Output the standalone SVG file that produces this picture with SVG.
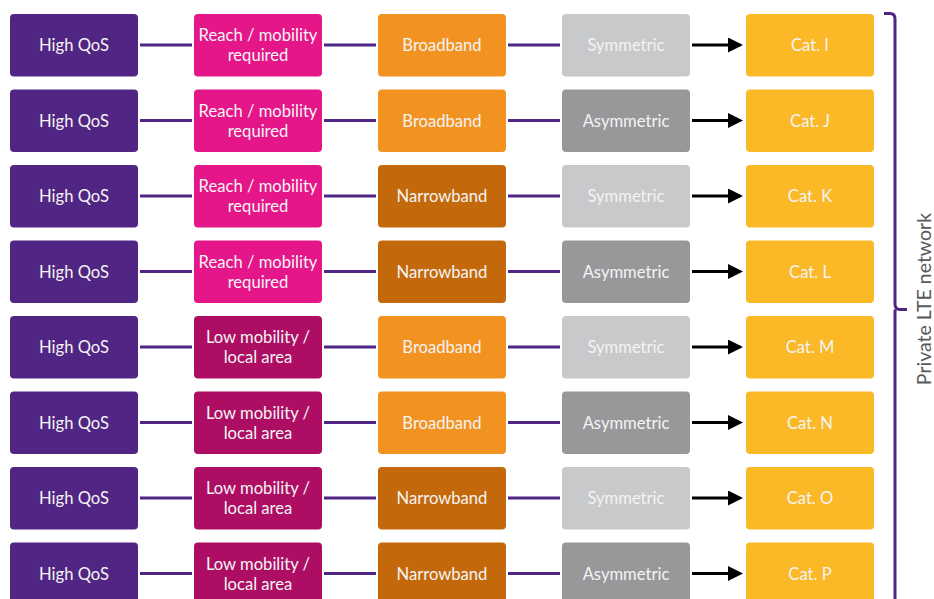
<svg xmlns="http://www.w3.org/2000/svg" width="934" height="599" viewBox="0 0 934 599">
<defs>
<style>
.b{rx:4;ry:4}
.t{font-family:Lato,"Open Sans","Liberation Sans",sans-serif;font-size:16.6px;fill:#F4F4F4;text-anchor:middle}
.q{fill:#512583}
.r{fill:#E5158A}
.l{fill:#AD0E64}
.bb{fill:#F29220}
.nb{fill:#C4690B}
.s{fill:#C8C9CA}
.a{fill:#98989B}
.c{fill:#FBB827}
.pl{stroke:#512583;stroke-width:3;fill:none}
.ar{stroke:#000;stroke-width:3;fill:none}
</style>
<marker id="ah" markerWidth="5" markerHeight="5" refX="4" refY="2.5" orient="auto" markerUnits="strokeWidth">
<path d="M0,0 L5,2.5 L0,5 Z" fill="#000"/>
</marker>
</defs>
<g id="connectors">
<g class="pl">
<path d="M140,45H192M324,45H376M508,45H560"/>
<path d="M140,120.5H192M324,120.5H376M508,120.5H560"/>
<path d="M140,196H192M324,196H376M508,196H560"/>
<path d="M140,271.5H192M324,271.5H376M508,271.5H560"/>
<path d="M140,347H192M324,347H376M508,347H560"/>
<path d="M140,422.5H192M324,422.5H376M508,422.5H560"/>
<path d="M140,498H192M324,498H376M508,498H560"/>
<path d="M140,573.5H192M324,573.5H376M508,573.5H560"/>
</g>
<g class="ar" marker-end="url(#ah)">
<path d="M692,45H740"/>
<path d="M692,120.5H740"/>
<path d="M692,196H740"/>
<path d="M692,271.5H740"/>
<path d="M692,347H740"/>
<path d="M692,422.5H740"/>
<path d="M692,498H740"/>
<path d="M692,573.5H740"/>
</g>
</g>
<g id="r1">
<g id="n1a"><rect class="b q" x="10" y="14" width="128" height="62.5"/><text class="t" x="74" y="51">High QoS</text></g>
<g id="n1b"><rect class="b r" x="194" y="14" width="128" height="62.5"/><text class="t" x="258" y="41">Reach / mobility</text><text class="t" x="258" y="61">required</text></g>
<g id="n1c"><rect class="b bb" x="378" y="14" width="128" height="62.5"/><text class="t" x="442" y="51">Broadband</text></g>
<g id="n1d"><rect class="b s" x="562" y="14" width="128" height="62.5"/><text class="t" x="626" y="51">Symmetric</text></g>
<g id="n1e"><rect class="b c" x="746" y="14" width="128" height="62.5"/><text class="t" x="810" y="51">Cat. I</text></g>
</g>
<g id="r2">
<g id="n2a"><rect class="b q" x="10" y="89.5" width="128" height="62.5"/><text class="t" x="74" y="126.5">High QoS</text></g>
<g id="n2b"><rect class="b r" x="194" y="89.5" width="128" height="62.5"/><text class="t" x="258" y="116.5">Reach / mobility</text><text class="t" x="258" y="136.5">required</text></g>
<g id="n2c"><rect class="b bb" x="378" y="89.5" width="128" height="62.5"/><text class="t" x="442" y="126.5">Broadband</text></g>
<g id="n2d"><rect class="b a" x="562" y="89.5" width="128" height="62.5"/><text class="t" x="626" y="126.5">Asymmetric</text></g>
<g id="n2e"><rect class="b c" x="746" y="89.5" width="128" height="62.5"/><text class="t" x="810" y="126.5">Cat. J</text></g>
</g>
<g id="r3">
<g id="n3a"><rect class="b q" x="10" y="165" width="128" height="62.5"/><text class="t" x="74" y="202">High QoS</text></g>
<g id="n3b"><rect class="b r" x="194" y="165" width="128" height="62.5"/><text class="t" x="258" y="192">Reach / mobility</text><text class="t" x="258" y="212">required</text></g>
<g id="n3c"><rect class="b nb" x="378" y="165" width="128" height="62.5"/><text class="t" x="442" y="202">Narrowband</text></g>
<g id="n3d"><rect class="b s" x="562" y="165" width="128" height="62.5"/><text class="t" x="626" y="202">Symmetric</text></g>
<g id="n3e"><rect class="b c" x="746" y="165" width="128" height="62.5"/><text class="t" x="810" y="202">Cat. K</text></g>
</g>
<g id="r4">
<g id="n4a"><rect class="b q" x="10" y="240.5" width="128" height="62.5"/><text class="t" x="74" y="277.5">High QoS</text></g>
<g id="n4b"><rect class="b r" x="194" y="240.5" width="128" height="62.5"/><text class="t" x="258" y="267.5">Reach / mobility</text><text class="t" x="258" y="287.5">required</text></g>
<g id="n4c"><rect class="b nb" x="378" y="240.5" width="128" height="62.5"/><text class="t" x="442" y="277.5">Narrowband</text></g>
<g id="n4d"><rect class="b a" x="562" y="240.5" width="128" height="62.5"/><text class="t" x="626" y="277.5">Asymmetric</text></g>
<g id="n4e"><rect class="b c" x="746" y="240.5" width="128" height="62.5"/><text class="t" x="810" y="277.5">Cat. L</text></g>
</g>
<g id="r5">
<g id="n5a"><rect class="b q" x="10" y="316" width="128" height="62.5"/><text class="t" x="74" y="353">High QoS</text></g>
<g id="n5b"><rect class="b l" x="194" y="316" width="128" height="62.5"/><text class="t" x="258" y="343">Low mobility /</text><text class="t" x="258" y="363">local area</text></g>
<g id="n5c"><rect class="b bb" x="378" y="316" width="128" height="62.5"/><text class="t" x="442" y="353">Broadband</text></g>
<g id="n5d"><rect class="b s" x="562" y="316" width="128" height="62.5"/><text class="t" x="626" y="353">Symmetric</text></g>
<g id="n5e"><rect class="b c" x="746" y="316" width="128" height="62.5"/><text class="t" x="810" y="353">Cat. M</text></g>
</g>
<g id="r6">
<g id="n6a"><rect class="b q" x="10" y="391.5" width="128" height="62.5"/><text class="t" x="74" y="428.5">High QoS</text></g>
<g id="n6b"><rect class="b l" x="194" y="391.5" width="128" height="62.5"/><text class="t" x="258" y="418.5">Low mobility /</text><text class="t" x="258" y="438.5">local area</text></g>
<g id="n6c"><rect class="b bb" x="378" y="391.5" width="128" height="62.5"/><text class="t" x="442" y="428.5">Broadband</text></g>
<g id="n6d"><rect class="b a" x="562" y="391.5" width="128" height="62.5"/><text class="t" x="626" y="428.5">Asymmetric</text></g>
<g id="n6e"><rect class="b c" x="746" y="391.5" width="128" height="62.5"/><text class="t" x="810" y="428.5">Cat. N</text></g>
</g>
<g id="r7">
<g id="n7a"><rect class="b q" x="10" y="467" width="128" height="62.5"/><text class="t" x="74" y="504">High QoS</text></g>
<g id="n7b"><rect class="b l" x="194" y="467" width="128" height="62.5"/><text class="t" x="258" y="494">Low mobility /</text><text class="t" x="258" y="514">local area</text></g>
<g id="n7c"><rect class="b nb" x="378" y="467" width="128" height="62.5"/><text class="t" x="442" y="504">Narrowband</text></g>
<g id="n7d"><rect class="b s" x="562" y="467" width="128" height="62.5"/><text class="t" x="626" y="504">Symmetric</text></g>
<g id="n7e"><rect class="b c" x="746" y="467" width="128" height="62.5"/><text class="t" x="810" y="504">Cat. O</text></g>
</g>
<g id="r8">
<g id="n8a"><rect class="b q" x="10" y="542.5" width="128" height="62.5"/><text class="t" x="74" y="579.5">High QoS</text></g>
<g id="n8b"><rect class="b l" x="194" y="542.5" width="128" height="62.5"/><text class="t" x="258" y="569.5">Low mobility /</text><text class="t" x="258" y="589.5">local area</text></g>
<g id="n8c"><rect class="b nb" x="378" y="542.5" width="128" height="62.5"/><text class="t" x="442" y="579.5">Narrowband</text></g>
<g id="n8d"><rect class="b a" x="562" y="542.5" width="128" height="62.5"/><text class="t" x="626" y="579.5">Asymmetric</text></g>
<g id="n8e"><rect class="b c" x="746" y="542.5" width="128" height="62.5"/><text class="t" x="810" y="579.5">Cat. P</text></g>
</g>
<g id="bracket">
<path class="pl" d="M884,13.5H890Q895,13.5 895,19V304Q895,309.5 900,309.5H907M895,309.5V610"/>
<text x="931" y="299" transform="rotate(-90 931 299)" style="font-family:Lato,'Open Sans','Liberation Sans',sans-serif;font-size:19.5px;fill:#595959;text-anchor:middle">Private LTE network</text>
</g>
</svg>
